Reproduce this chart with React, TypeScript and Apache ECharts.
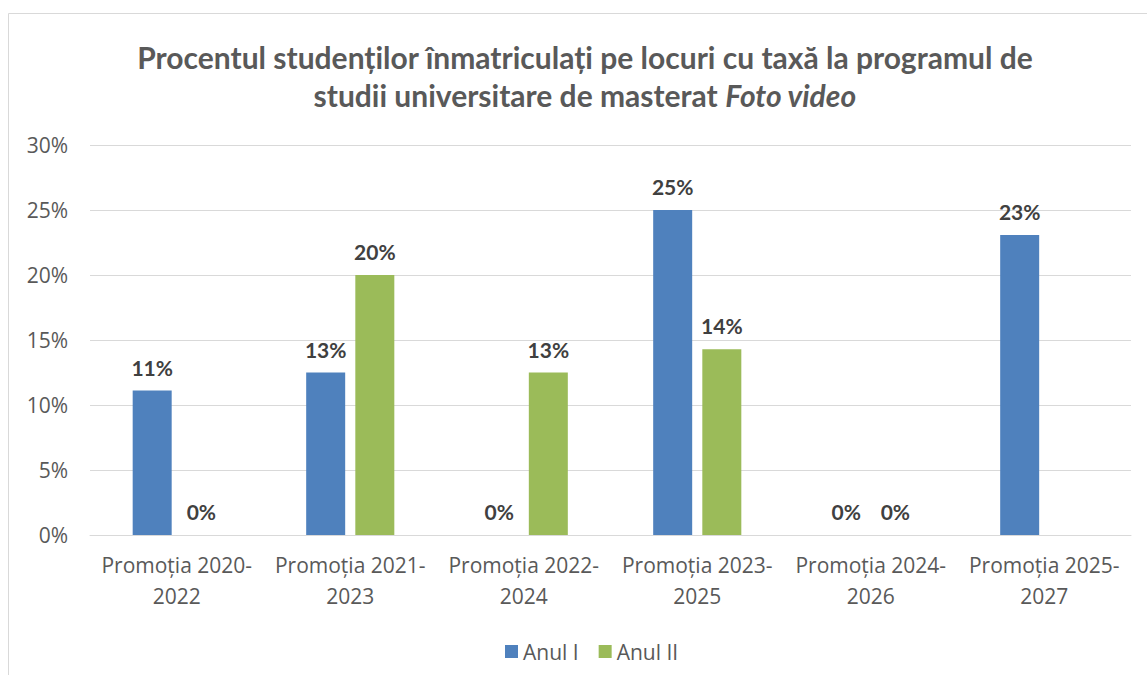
import React, { useEffect, useRef } from "react";
import * as echarts from "echarts";

const categories = [
  "Promoția 2020-\n2022",
  "Promoția 2021-\n2023",
  "Promoția 2022-\n2024",
  "Promoția 2023-\n2025",
  "Promoția 2024-\n2026",
  "Promoția 2025-\n2027",
];
const anulI: (number | null)[] = [11.11, 12.5, 0, 25, 0, 23.08];
const anulII: (number | null)[] = [0, 20, 12.5, 14.29, 0, null];
const seriesNames = ["Anul I", "Anul II"];
const titleLine1 = "Procentul studenților înmatriculați pe locuri cu taxă la programul de";
const titleLine2a = "studii universitare de masterat ";
const titleLine2b = "Foto video";

export default function App() {
  const ref = useRef<HTMLDivElement>(null);
  useEffect(() => {
    if (!ref.current) return;
    const chart = echarts.init(ref.current, null, { renderer: "svg" });
    const labelFmt = (p: any) =>
      p.value == null ? "" : Math.round(p.value) + "%";
    const label = {
      show: true,
      position: "top",
      distance: 13,
      formatter: labelFmt,
      color: "#404040",
      fontWeight: "bold",
      fontSize: 21,
      fontFamily: "Lato",
    };
    chart.setOption({
      animation: false,
      backgroundColor: "#ffffff",
      graphic: [
        {
          type: "rect",
          shape: { x: 8.5, y: 13.5, width: 1200, height: 700 },
          style: { fill: "none", stroke: "#d9d9d9", lineWidth: 1 },
          silent: true,
        },
        {
          type: "text",
          x: 585,
          y: 76,
          style: {
            text: `{b|${titleLine1}}\n{b|${titleLine2a}}{bi|${titleLine2b}}`,
            align: "center",
            verticalAlign: "middle",
            rich: {
              b: {
                fontFamily: "Lato",
                fontWeight: "bold",
                fontSize: 30,
                fill: "#595959",
                lineHeight: 38,
              },
              bi: {
                fontFamily: "Lato",
                fontWeight: "bold",
                fontStyle: "italic",
                fontSize: 30,
                fill: "#595959",
                lineHeight: 38,
              },
            },
          },
        },
      ],
      legend: {
        data: seriesNames,
        left: 500,
        top: 636,
        icon: "rect",
        itemWidth: 13,
        itemHeight: 13,
        itemGap: 20,
        textStyle: { color: "#595959", fontSize: 21, fontFamily: "Open Sans" },
      },
      grid: { left: 90, right: 16, top: 145, bottom: 140 },
      xAxis: {
        type: "category",
        data: categories,
        axisLine: { lineStyle: { color: "#d9d9d9", width: 1 } },
        axisTick: { show: false },
        axisLabel: {
          color: "#595959",
          fontSize: 21,
          fontFamily: "Open Sans",
          lineHeight: 31,
          margin: 14,
          interval: 0,
        },
      },
      yAxis: {
        type: "value",
        min: 0,
        max: 30,
        interval: 5,
        axisLine: { show: false },
        axisTick: { show: false },
        splitLine: { lineStyle: { color: "#d9d9d9", width: 1 } },
        axisLabel: {
          color: "#595959",
          fontSize: 21,
          fontFamily: "Open Sans",
          margin: 22,
          formatter: (v: number) => v + "%",
        },
      },
      series: [
        {
          name: seriesNames[0],
          type: "bar",
          data: anulI,
          barWidth: 39,
          barGap: "26%",
          itemStyle: { color: "#4f81bd" },
          label,
        },
        {
          name: seriesNames[1],
          type: "bar",
          data: anulII,
          barWidth: 39,
          itemStyle: { color: "#9bbb59" },
          label,
        },
      ],
    });
    return () => chart.dispose();
  }, []);
  return (
    <div
      ref={ref}
      style={{ position: "fixed", left: 0, top: 0, width: 1147, height: 675 }}
    />
  );
}
